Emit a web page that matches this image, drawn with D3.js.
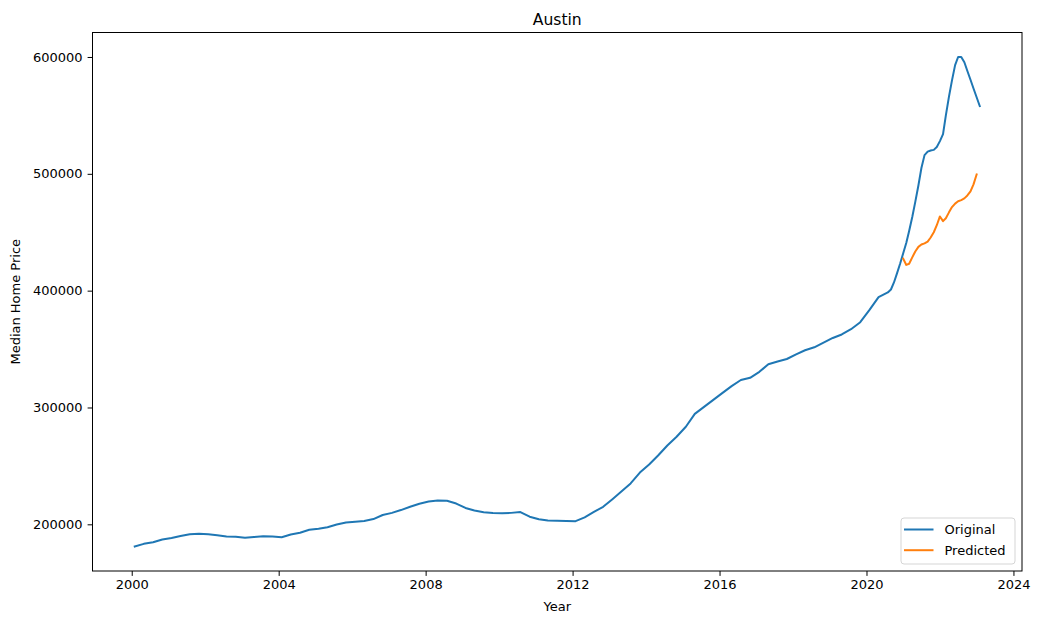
<!DOCTYPE html>
<html>
<head>
<meta charset="utf-8">
<script src="https://cdn.jsdelivr.net/npm/d3@7"></script>
<style>
  body { margin: 0; background: #fff; }
  svg text { font-family: "DejaVu Sans", sans-serif; fill: #000; }
</style>
</head>
<body>
<div id="chart"></div>
<script>
// month (end of month) and median price
var origMonths = [
  "2000-01","2000-04","2000-07","2000-10","2001-01","2001-04","2001-07","2001-10",
  "2002-01","2002-04","2002-07","2002-10","2003-01","2003-04","2003-07","2003-10",
  "2004-01","2004-04","2004-07","2004-10","2005-01","2005-04","2005-07","2005-10",
  "2006-01","2006-04","2006-07","2006-10","2007-01","2007-04","2007-07","2007-10",
  "2008-01","2008-04","2008-07","2008-10","2009-01","2009-04","2009-07","2009-10",
  "2010-01","2010-04","2010-07","2010-10","2011-01","2011-04","2011-07","2011-10",
  "2012-01","2012-04","2012-07","2012-10","2013-01","2013-04","2013-07","2013-10",
  "2014-01","2014-04","2014-07","2014-10","2015-01","2015-04","2015-07","2015-10",
  "2016-01","2016-04","2016-07","2016-10","2017-01","2017-04","2017-07","2017-10",
  "2018-01","2018-04","2018-07","2018-10","2019-01","2019-04","2019-07","2019-10",
  "2020-01","2020-04","2020-07","2020-08","2020-09","2020-10","2020-11","2020-12",
  "2021-01","2021-02","2021-03","2021-04","2021-05","2021-06","2021-07","2021-08",
  "2021-09","2021-10","2021-11","2021-12","2022-01","2022-02","2022-03","2022-04",
  "2022-05","2022-06","2022-07","2022-08","2022-09","2022-10","2022-11","2022-12",
  "2023-01"
]
var origValues = [
  181000,183300,184700,187000,188300,190000,191500,191900,
  191500,190700,189600,189300,188600,189100,189700,189500,
  189000,191300,192800,195300,196300,197500,199800,201500,
  202300,202800,204500,208000,209800,212200,215000,217600,
  219500,220400,220200,217800,214000,211800,210400,209700,
  209400,209800,210500,206500,204300,203200,203000,202800,
  202700,206000,210600,215000,221500,228000,235000,244300,
  251200,258900,267500,275000,283500,294500,300500,306500,
  312500,318300,323500,325400,330500,337000,339300,341500,
  345500,349000,351500,355500,359500,362500,367000,373000,
  383500,394500,398500,401000,407000,415000,423000,432000,
  441000,451000,463000,476000,490000,505000,516000,519000,
  520000,520500,523000,528000,534000,550000,566000,580000,
  593000,600000,600000,595500,588000,580500,573000,565500,
  558000
]

var predMonths = [
  "2020-12","2021-01","2021-02","2021-03","2021-04","2021-05","2021-06","2021-07",
  "2021-08","2021-09","2021-10","2021-11","2021-12","2022-01","2022-02","2022-03",
  "2022-04","2022-05","2022-06","2022-07","2022-08","2022-09","2022-10","2022-11",
  "2022-12"
]
var predValues = [
  427400,422000,423000,428500,433500,437500,439500,440500,
  442000,445500,450000,456000,463500,459500,462000,467000,
  471500,474500,476500,477500,479000,481500,485000,491000,
  499500
]

var yTicks = [200000, 300000, 400000, 500000, 600000]
var xTickYears = [2000, 2004, 2008, 2012, 2016, 2020, 2024]
var seriesNames = ["Original", "Predicted"]
var seriesColors = ["#1f77b4", "#ff7f0e"]

var width = 1040
var height = 624
var margin = { top: 32.5, right: 18, bottom: 53, left: 92.5 }
var plotW = width - margin.left - margin.right
var plotH = height - margin.top - margin.bottom

// month string -> last day of that month
function monthEnd(s) {
  var p = s.split("-")
  return new Date(+p[0], +p[1], 0)
}

var orig = origMonths.map(function(m, i) { return { date: monthEnd(m), value: origValues[i] } })
var pred = predMonths.map(function(m, i) { return { date: monthEnd(m), value: predValues[i] } })
var all = orig.concat(pred)

// matplotlib-like 5% padding
function padded(ext) {
  var r = ext[1] - ext[0]
  return [ext[0] - r * 0.05, ext[1] + r * 0.05]
}
var tExt = padded(d3.extent(all, function(d) { return +d.date }))
var vExt = padded(d3.extent(all, function(d) { return d.value }))

var x = d3.scaleTime().domain([new Date(tExt[0]), new Date(tExt[1])]).range([0, plotW])
var y = d3.scaleLinear().domain(vExt).range([plotH, 0])

var svg = d3.select("#chart").append("svg")
  .attr("width", width)
  .attr("height", height)

var g = svg.append("g")
  .attr("transform", "translate(" + margin.left + "," + margin.top + ")")

var line = d3.line()
  .x(function(d) { return x(d.date) })
  .y(function(d) { return y(d.value) })

g.append("path")
  .datum(orig)
  .attr("fill", "none")
  .attr("stroke", seriesColors[0])
  .attr("stroke-width", 2)
  .attr("stroke-linejoin", "round")
  .attr("stroke-linecap", "square")
  .attr("d", line)

g.append("path")
  .datum(pred)
  .attr("fill", "none")
  .attr("stroke", seriesColors[1])
  .attr("stroke-width", 2)
  .attr("stroke-linejoin", "round")
  .attr("stroke-linecap", "square")
  .attr("d", line)

// axes
var xAxis = d3.axisBottom(x)
  .tickValues(xTickYears.map(function(yr) { return new Date(yr, 0, 1) }))
  .tickFormat(d3.timeFormat("%Y"))
  .tickSize(4.9)
  .tickPadding(4)

var yAxis = d3.axisLeft(y)
  .tickValues(yTicks)
  .tickFormat(d3.format("d"))
  .tickSize(4.9)
  .tickPadding(5)

var gx = g.append("g")
  .attr("transform", "translate(0," + plotH + ")")
  .call(xAxis)
var gy = g.append("g").call(yAxis)

;[gx, gy].forEach(function(a) {
  a.select(".domain").remove()
  a.selectAll(".tick line").attr("stroke", "#000").attr("stroke-width", 1)
  a.selectAll(".tick text").attr("font-size", 13).attr("font-family", "DejaVu Sans")
})

// frame
g.append("rect")
  .attr("x", 0).attr("y", 0)
  .attr("width", plotW).attr("height", plotH)
  .attr("fill", "none")
  .attr("stroke", "#000")
  .attr("stroke-width", 1)

// title and labels
svg.append("text")
  .attr("x", margin.left + plotW / 2)
  .attr("y", margin.top - 8)
  .attr("text-anchor", "middle")
  .attr("font-size", 15.6)
  .text("Austin")

svg.append("text")
  .attr("x", margin.left + plotW / 2)
  .attr("y", 611)
  .attr("text-anchor", "middle")
  .attr("font-size", 13)
  .text("Year")

svg.append("text")
  .attr("transform", "translate(20," + (margin.top + plotH / 2) + ") rotate(-90)")
  .attr("text-anchor", "middle")
  .attr("font-size", 13)
  .text("Median Home Price")

// legend
var lg = svg.append("g").attr("transform", "translate(901,518)")
lg.append("rect")
  .attr("width", 114).attr("height", 46)
  .attr("rx", 3)
  .attr("fill", "#fff")
  .attr("fill-opacity", 0.8)
  .attr("stroke", "#d5d5d5")
  .attr("stroke-width", 1)

seriesNames.forEach(function(name, i) {
  var yy = 11.5 + i * 20.7
  lg.append("line")
    .attr("x1", 3).attr("x2", 32.5)
    .attr("y1", yy).attr("y2", yy)
    .attr("stroke", seriesColors[i])
    .attr("stroke-width", 2)
  lg.append("text")
    .attr("x", 43.5)
    .attr("y", yy + 4.7)
    .attr("font-size", 13)
    .text(name)
})
</script>
</body>
</html>
